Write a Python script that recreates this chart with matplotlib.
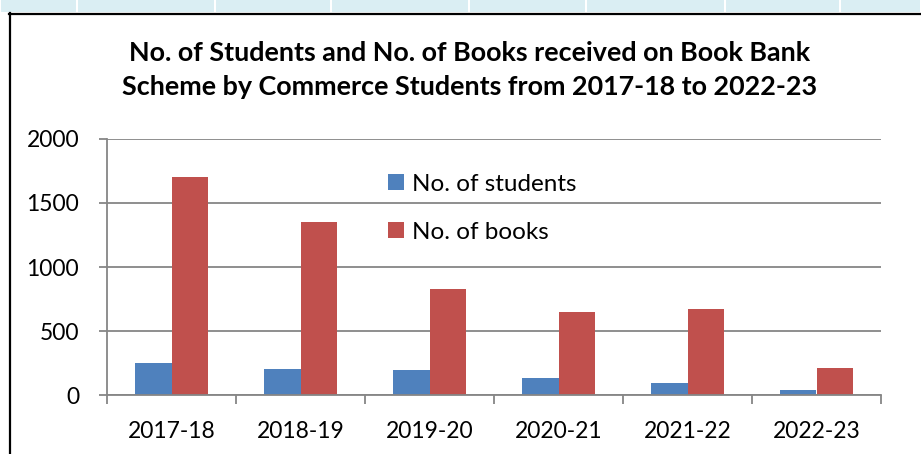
import matplotlib
matplotlib.use('Agg')
import matplotlib.pyplot as plt
from matplotlib.lines import Line2D
from matplotlib.patches import Rectangle
import numpy as np

years = ['2017-18', '2018-19', '2019-20', '2020-21', '2021-22', '2022-23']
students = [250, 200, 195, 130, 90, 40]
books = [1700, 1350, 825, 650, 670, 210]

title = ('No. of Students and No. of Books received on Book Bank\n'
         'Scheme by Commerce Students from 2017-18 to 2022-23')

BLUE = '#4F81BD'
RED = '#C0504D'
GRID = '#868686'
FONT = 'Lato'

W, H = 921, 454
fig = plt.figure(figsize=(W / 100, H / 100), dpi=100)


def fx(px):
    return px / W


def fy(py):
    return 1 - py / H


# strip of sheet cells above the chart object
cell_edges = [0, 77, 215, 331, 469, 586, 725, 840, 921]
for a, b in zip(cell_edges[:-1], cell_edges[1:]):
    fig.add_artist(Rectangle((fx(a + 1), fy(12)), fx(b - a - 2), 12 / H,
                             transform=fig.transFigure, color='#DAEEF3', lw=0))

# chart border (top and left edges visible)
fig.add_artist(Line2D([fx(9), 1], [fy(13.5), fy(13.5)], transform=fig.transFigure,
                      color='black', lw=1.6))
fig.add_artist(Line2D([fx(10), fx(10)], [fy(13), 0], transform=fig.transFigure,
                      color='black', lw=1.6))

ax = fig.add_axes([fx(107), fy(395), fx(881) - fx(107), 256 / H])

x = np.arange(len(years))
w = 1 / 3.5
ax.bar(x - w / 2, students, w, color=BLUE, label='No. of students', zorder=3)
ax.bar(x + w / 2, books, w, color=RED, label='No. of books', zorder=3)

ax.set_xlim(-0.5, len(years) - 0.5)
ax.set_ylim(0, 2000)
ax.set_yticks([0, 500, 1000, 1500, 2000])
ax.yaxis.grid(True, color=GRID, lw=1.3, zorder=0)

for s in ['top', 'right']:
    ax.spines[s].set_visible(False)
for s in ['left', 'bottom']:
    ax.spines[s].set_color(GRID)
    ax.spines[s].set_linewidth(1.3)
    ax.spines[s].set_zorder(4)

ax.set_xticks(x)
ax.set_xticklabels(years)
ax.set_xticks(np.arange(-0.5, len(years)), minor=True)
ax.tick_params(axis='x', which='major', length=0, pad=19)
ax.tick_params(axis='x', which='minor', length=6.5, width=1.3, color=GRID)
ax.tick_params(axis='y', length=6, width=1.3, color=GRID, pad=14)
for lab in ax.get_xticklabels() + ax.get_yticklabels():
    lab.set_fontfamily(FONT)
    lab.set_fontsize(16.5)
    lab.set_color('black')

fig.text(fx(470), fy(70), title, ha='center', va='center', fontfamily=FONT,
         fontweight='bold', fontsize=19.4, linespacing=1.5)

ax.legend(loc='upper left', bbox_to_anchor=(fx(366), fy(152)),
          bbox_transform=fig.transFigure, frameon=False,
          prop={'family': FONT, 'size': 17.5}, handlelength=0.65,
          handleheight=0.65, handletextpad=0.35, labelspacing=1.1)

fig.savefig('out.png', dpi=100)
